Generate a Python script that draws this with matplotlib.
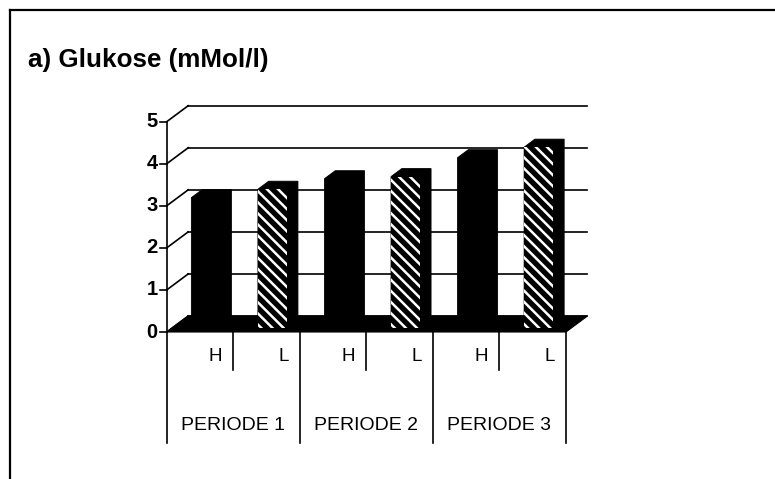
import matplotlib.pyplot as plt
from matplotlib.patches import Polygon, Rectangle
from matplotlib.lines import Line2D

plt.rcParams['font.family'] = ['Liberation Sans', 'DejaVu Sans']

# Glukose (mMol/l) je Periode, Gruppe H und L
perioden = ["PERIODE 1", "PERIODE 2", "PERIODE 3"]
gruppen = ["H", "L"]
glukose_h = [3.1, 3.55, 4.05]
glukose_l = [3.3, 3.6, 4.3]
y_ticks = [0, 1, 2, 3, 4, 5]

W, H = 775, 479
fig = plt.figure(figsize=(W / 100, H / 100), dpi=100)

# Vorderebene des Diagramms in Pixeln
x0_px, x1_px, y0_px, y5_px = 166.7, 566.0, 332.0, 121.7
ax = fig.add_axes([x0_px / W, 1 - y0_px / H, (x1_px - x0_px) / W, (y0_px - y5_px) / H])
ax.set_xlim(0, 6)
ax.set_ylim(0, 5)
ax.axis('off')

n_cat = len(perioden) * len(gruppen)
px_x = (x1_px - x0_px) / n_cat
px_y = (y0_px - y5_px) / 5
DX = 21.5 / px_x   # Tiefe in Datenkoordinaten
DY = 16.0 / px_y

lw = 1.2
# Rueckwand mit Gitterlinien und Seitenwand-Diagonalen
for v in y_ticks:
    ax.plot([DX, n_cat + DX], [v + DY, v + DY], color='black', lw=lw, clip_on=False, zorder=1)
    ax.plot([0, DX], [v, v + DY], color='black', lw=lw, clip_on=False, zorder=1)
    ax.plot([-7 / px_x, 0], [v, v], color='black', lw=lw, clip_on=False, zorder=1)
    ax.text(-9 / px_x, v, str(v), ha='right', va='center', fontsize=14.5, fontweight='bold')
ax.plot([0, 0], [0, y_ticks[-1]], color='black', lw=lw, clip_on=False, zorder=1)

# Boden
ax.add_patch(Polygon([(0, 0), (n_cat, 0), (n_cat + DX, DY), (DX, DY)],
                     closed=True, facecolor='black', edgecolor='black', lw=0.8,
                     clip_on=False, zorder=2))

plt.rcParams['hatch.linewidth'] = 1.8
f0, f1 = 0.25, 0.75
bw = 0.44
werte = []
for h, l in zip(glukose_h, glukose_l):
    werte += [h, l]

for i, v in enumerate(werte):
    xl = i + 0.29
    xr = xl + bw
    a0, b0 = f0 * DX, f0 * DY
    a1, b1 = f1 * DX, f1 * DY
    # Umriss der Saeule (Vorder-, Seiten- und Deckflaeche) in Schwarz
    ax.add_patch(Polygon([(xl + a0, b0), (xr + a0, b0), (xr + a1, b1), (xr + a1, v + b1),
                          (xl + a1, v + b1), (xl + a0, v + b0)],
                         closed=True, facecolor='black', edgecolor='black', lw=0.6,
                         clip_on=False, zorder=3))
    # L-Gruppe: Vorderflaeche schraffiert
    if i % 2 == 1:
        ax.add_patch(Rectangle((xl + a0, b0), bw, v, facecolor='black', edgecolor='white',
                               hatch='\\\\\\', lw=0, clip_on=False, zorder=4))

# Kategorienachse unten
kurz = -38 / px_y
lang = -111 / px_y
for k in range(n_cat + 1):
    bottom = lang if k % 2 == 0 else kurz
    ax.plot([k, k], [0, bottom], color='black', lw=lw, clip_on=False, zorder=1)
for k in range(n_cat):
    ax.text(k + 0.83, -24.5 / px_y, gruppen[k % 2], ha='right', va='center', fontsize=13.5)
for p, name in enumerate(perioden):
    ax.text(2 * p + 1, -93 / px_y, name, ha='center', va='center', fontsize=14)

# Titel und Rahmen
fig.text(28 / W, 1 - 60 / H, "a) Glukose (mMol/l)", ha='left', va='center',
         fontsize=18.7, fontweight='bold')
fig.add_artist(Line2D([10 / W, 10 / W], [0, 1 - 10 / H], color='black', lw=1.6))
fig.add_artist(Line2D([10 / W, 1], [1 - 10 / H, 1 - 10 / H], color='black', lw=1.6))

fig.savefig("out.png", dpi=100)
